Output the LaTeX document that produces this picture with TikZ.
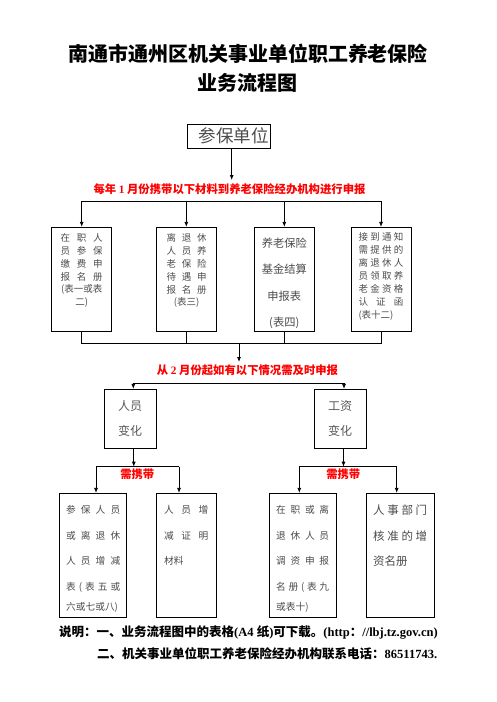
\documentclass[tikz,border=0pt]{standalone}
\usepackage{fontspec}
\setmainfont{Noto Sans CJK SC}
\newfontfamily\lat{Liberation Serif}
\usetikzlibrary{arrows.meta}
\newcommand\spreadto[2]{\makebox[#1][s]{#2}}
\begin{document}
\begin{tikzpicture}[x=1pt,y=-1pt,
  box/.style={draw, line width=0.8pt, inner sep=0pt},
  ln/.style={line width=0.8pt},
  arr/.style={line width=0.8pt,-{Latex[length=5pt,width=4pt]}},
  titletext/.style={font=\fontsize{20}{24}\selectfont\bfseries, inner sep=0pt},
  redlab/.style={font=\fontsize{11.35}{13}\selectfont\bfseries, text=red, inner sep=0pt},
  smalltext/.style={font=\fontsize{9.5}{12.9}\selectfont, text=black!70, inner sep=0pt},
  midtext/.style={font=\fontsize{11.25}{26.3}\selectfont, text=black!70, inner sep=0pt, align=center},
  chgtext/.style={font=\fontsize{12}{25}\selectfont, text=black!65, inner sep=0pt, align=center},
  bottext/.style={font=\fontsize{9.7}{25.5}\selectfont, text=black!70, inner sep=0pt, align=left},
  notetext/.style={font=\bfseries, inner sep=0pt, anchor=west}
]
\fill[white] (0,0) rectangle (496,702);
\useasboundingbox (0,0) rectangle (496,702);

% title
\node[titletext] (tl1) at (248,54) {南通市通州区机关事业单位职工养老保险};
\node[titletext] (tl2) at (247,83) {业务流程图};

% unit
\node[box, minimum width=82.3pt, minimum height=24pt] (unit) at (228.9,136) {};
\node[font=\fontsize{17.5}{20}\selectfont, text=black!70, inner sep=0pt] (unitt) at (233.5,136) {参保单位};
\coordinate (a1e) at (231.7,180);
\draw[arr] (unit.south -| a1e) -- (a1e);
\node[redlab] (r1) at (229.5,189) {每年 {\lat 1} 月份携带以下材料到养老保险经办机构进行申报};

% row 1 boxes
\node[box, minimum width=60pt, minimum height=104.4pt] (b1) at (81.7,279.5) {};
\node[box, minimum width=60.7pt, minimum height=104.4pt] (b2) at (186.3,279.5) {};
\node[box, minimum width=60pt, minimum height=104.4pt] (b3) at (284.3,279.5) {};
\node[box, minimum width=60pt, minimum height=104.4pt] (b4) at (381,279.5) {};

\coordinate (bus1) at (0,201);
\draw[ln] (b1.north |- bus1) -- (b4.north |- bus1);
\foreach \b in {b1,b2,b3,b4} \draw[arr] (\b.north |- bus1) -- (\b.north);

\node[smalltext, align=center, anchor=north] (b1t) at (81.7,233.2)
 {\spreadto{42pt}{在 职 人}\\ \spreadto{42pt}{员 参 保}\\ \spreadto{42pt}{缴 费 申}\\ \spreadto{42pt}{报 名 册}\\ (表一或表\\ 二)};
\node[smalltext, align=center, anchor=north] (b2t) at (186.7,233.2)
 {\spreadto{40pt}{离 退 休}\\ \spreadto{40pt}{人 员 养}\\ \spreadto{40pt}{老 保 险}\\ \spreadto{40pt}{待 遇 申}\\ \spreadto{40pt}{报 名 册}\\ (表三)};
\node[midtext, anchor=north] (b3t) at (284.3,237.7) {养老保险\\基金结算\\申报表\\(表四)};
\node[smalltext, font=\fontsize{9.5}{13.05}\selectfont, align=left, anchor=north west] (b4t) at (358.3,232.2)
 {\spreadto{45pt}{接 到 通 知}\\ \spreadto{45pt}{需 提 供 的}\\ \spreadto{45pt}{离 退 休 人}\\ \spreadto{45pt}{员 领 取 养}\\ \spreadto{45pt}{老 金 资 格}\\ \spreadto{45pt}{认 证 函}\\ (表十二)};

\coordinate (bus2) at (0,343.3);
\draw[ln] (b1.south) -- (b1.south |- bus2) -- (b4.south |- bus2) -- (b4.south);
\draw[ln] (b2.south) -- (b2.south |- bus2);
\draw[ln] (b3.south) -- (b3.south |- bus2);
\coordinate (a2e) at (239,362);
\draw[arr] (a2e |- bus2) -- (a2e);
\node[redlab] (r2) at (247.5,370.7) {从 {\lat 2} 月份起如有以下情况需及时申报};

% row 2
\node[box, minimum width=52.4pt, minimum height=59pt] (p1) at (130.5,418.8) {};
\node[box, minimum width=52.4pt, minimum height=59pt] (p2) at (340.5,418.8) {};
\node[chgtext, anchor=north] (p1t) at (130,400) {人员\\变化};
\node[chgtext, anchor=north] (p2t) at (340,400) {工资\\变化};
\coordinate (bus3) at (0,383.3);
\draw[ln] ([xshift=2.8pt]p1.north |- bus3) -- ([xshift=3.5pt]p2.north |- bus3);
\draw[arr] ([xshift=2.8pt]p1.north |- bus3) -- ([xshift=2.8pt]p1.north);
\draw[arr] ([xshift=3.5pt]p2.north |- bus3) -- ([xshift=3.5pt]p2.north);

% row 3
\node[box, minimum width=67.4pt, minimum height=124pt] (q1) at (93,555.3) {};
\node[box, minimum width=60pt, minimum height=124pt] (q2) at (186,555.3) {};
\node[box, minimum width=67.4pt, minimum height=124pt] (q3) at (303,555.3) {};
\node[box, minimum width=68.3pt, minimum height=124pt] (q4) at (400.2,555.3) {};

\coordinate (bus4) at (0,466.7);
\draw[arr] ([xshift=3.3pt]p1.south) -- ([xshift=3.3pt]p1.south |- bus4);
\draw[arr] ([xshift=3pt]p2.south) -- ([xshift=3pt]p2.south |- bus4);
\draw[ln] ([xshift=3pt]q1.north |- bus4) -- ([xshift=-7pt]q2.north |- bus4);
\draw[arr] ([xshift=3pt]q1.north |- bus4) -- ([xshift=3pt]q1.north);
\draw[arr] ([xshift=-7pt]q2.north |- bus4) -- ([xshift=-7pt]q2.north);
\draw[ln] ([xshift=-3.7pt]q3.north |- bus4) -- ([xshift=-3.5pt]q4.north |- bus4);
\draw[arr] ([xshift=-3.7pt]q3.north |- bus4) -- ([xshift=-3.7pt]q3.north);
\draw[arr] ([xshift=-3.5pt]q4.north |- bus4) -- ([xshift=-3.5pt]q4.north);
\node[redlab] (n1) at (137.3,474) {需携带};
\node[redlab] (n2) at (343.3,474) {需携带};

\node[bottext, anchor=north west] (q1t) at (66,505.4)
 {\spreadto{54pt}{参 保 人 员}\\ \spreadto{54pt}{或 离 退 休}\\ \spreadto{54pt}{人 员 增 减}\\ \spreadto{54pt}{表 ( 表 五 或}\\[-5.5pt] 六或七或八)};
\node[bottext, anchor=north west] (q2t) at (164,505.4)
 {\spreadto{44pt}{人 员 增}\\ \spreadto{44pt}{减 证 明}\\ 材料};
\node[bottext, anchor=north west] (q3t) at (276,505.4)
 {\spreadto{53pt}{在 职 或 离}\\ \spreadto{53pt}{退 休 人 员}\\ \spreadto{53pt}{调 资 申 报}\\ \spreadto{53pt}{名 册 ( 表 九}\\[-5.5pt] 或表十)};
\node[bottext, font=\fontsize{11.5}{25.5}\selectfont, anchor=north west] (q4t) at (373,504.6)
 {\spreadto{54pt}{人 事 部 门}\\ \spreadto{54pt}{核 准 的 增}\\ 资名册};

% notes
\node[notetext, font=\fontsize{12.5}{14}\selectfont\bfseries] (note1) at (59,632)
 {说明：一、业务流程图中的表格{\lat(A4 }纸{\lat)}可下载。{\lat(http}：{\lat//lbj.tz.gov.cn)}};
\node[notetext, font=\fontsize{12.5}{14}\selectfont\bfseries] (note2) at (97,654)
 {二、机关事业单位职工养老保险经办机构联系电话：{\lat 86511743.}};
\end{tikzpicture}
\end{document}
